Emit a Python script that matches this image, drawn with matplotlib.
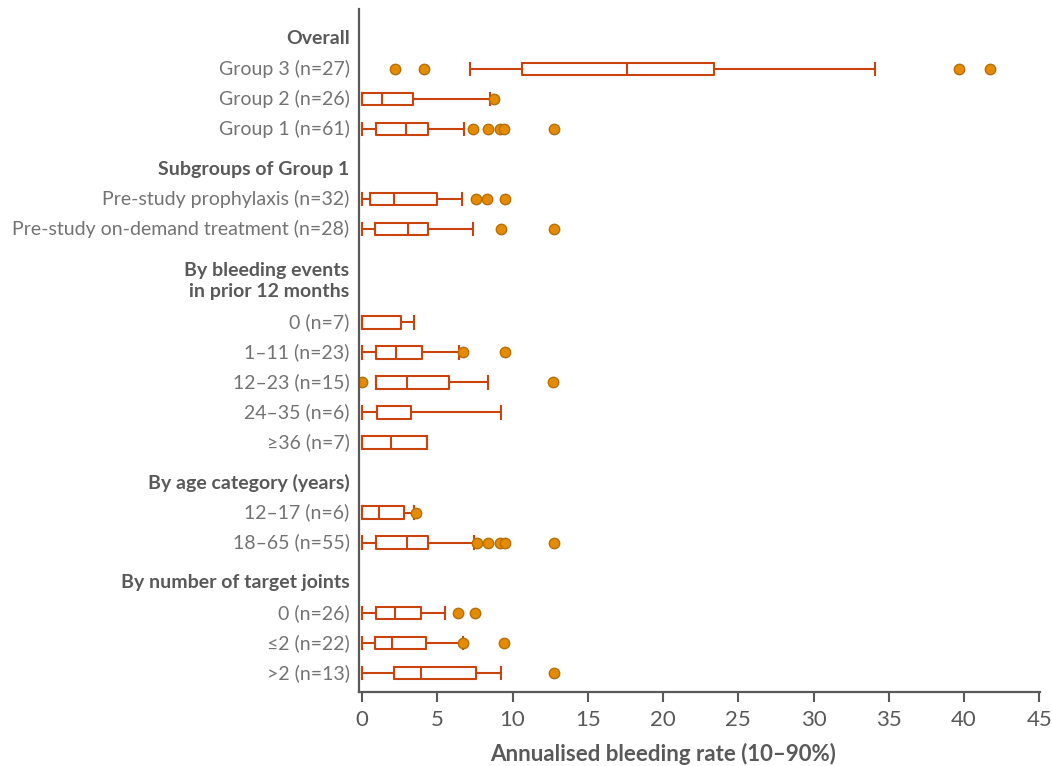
import matplotlib
matplotlib.use("Agg")
import matplotlib.pyplot as plt
from matplotlib.transforms import blended_transform_factory

plt.rcParams['font.family'] = ['Lato', 'DejaVu Sans']

# Section headings and the number of rows under each
headers = ["Overall", "Subgroups of Group 1", "By bleeding events\nin prior 12 months",
           "By age category (years)", "By number of target joints"]
section_sizes = [3, 2, 5, 2, 3]

row_labels = [
    "Group 3 (n=27)", "Group 2 (n=26)", "Group 1 (n=61)",
    "Pre-study prophylaxis (n=32)", "Pre-study on-demand treatment (n=28)",
    "0 (n=7)", "1\u201311 (n=23)", "12\u201323 (n=15)", "24\u201335 (n=6)", "\u226536 (n=7)",
    "12\u201317 (n=6)", "18\u201365 (n=55)",
    "0 (n=26)", "\u22642 (n=22)", ">2 (n=13)",
]

# Box statistics of the annualised bleeding rate (whiskers at 10th / 90th percentile)
whislo = [7.15, 0.0, 0.0, 0.0, 0.0, 0.0, 0.0, 0.93, 0.0, 0.0, 0.0, 0.0, 0.0, 0.0, 0.0]
q1 = [10.63, 0.0, 0.93, 0.53, 0.87, 0.0, 0.93, 0.93, 0.98, 0.0, 0.0, 0.93, 0.93, 0.87, 2.09]
med = [17.62, 1.3, 2.9, 2.15, 3.04, 0.0, 2.24, 2.98, 0.98, 1.95, 1.15, 2.98, 2.17, 2.0, 3.9]
q3 = [23.37, 3.4, 4.35, 4.97, 4.35, 2.58, 4.0, 5.75, 3.24, 4.33, 2.82, 4.37, 3.9, 4.26, 7.57]
whishi = [34.1, 8.5, 6.8, 6.66, 7.4, 3.42, 6.42, 8.35, 9.25, 4.33, 3.42, 7.43, 5.52, 6.68, 9.23]
outliers = [
    [2.2, 4.13, 39.7, 41.7],
    [8.75],
    [7.4, 8.37, 9.14, 9.45, 12.74],
    [7.57, 8.3, 9.47],
    [9.25, 12.76],
    [],
    [6.7, 9.52],
    [0.0, 12.7],
    [],
    [],
    [3.6],
    [7.63, 8.37, 9.19, 9.52, 12.76],
    [6.35, 7.5],
    [6.7, 9.45],
    [12.76],
]

x_ticks = [0, 5, 10, 15, 20, 25, 30, 35, 40, 45]
x_label = "Annualised bleeding rate (10\u201390%)"

BOX = "#C9430C"
DOT = "#E68A00"
DOT_EDGE = "#B5700A"
HEAD = "#595959"
TEXT = "#737373"

# Vertical layout: a heading, then its rows, with a small gap between sections
gap = 0.34
line_step = 0.77
header_pos, row_pos = [], []
y = -1.0
for si, (h, n) in enumerate(zip(headers, section_sizes)):
    if si > 0:
        y += gap
    nlines = h.count("\n") + 1
    header_pos.append(y + (nlines - 1) * line_step / 2)
    y += 1 + (nlines - 1) * line_step
    for _ in range(n):
        row_pos.append(y)
        y += 1

stats = []
for i in range(len(row_labels)):
    stats.append(dict(whislo=whislo[i], q1=q1[i], med=med[i], q3=q3[i],
                      whishi=whishi[i], fliers=outliers[i]))

fig = plt.figure(figsize=(10.52, 7.66), dpi=100)
ax = fig.add_axes([0.3413, 0.0966, 0.6473, 0.8917])

lw = 1.5
ax.bxp(stats, positions=row_pos, orientation="horizontal", widths=0.42,
       capwidths=0.42, showfliers=True,
       boxprops=dict(color=BOX, linewidth=lw),
       whiskerprops=dict(color=BOX, linewidth=lw),
       capprops=dict(color=BOX, linewidth=lw),
       medianprops=dict(color=BOX, linewidth=lw),
       flierprops=dict(marker="o", markerfacecolor=DOT, markeredgecolor=DOT_EDGE,
                       markeredgewidth=1.0, markersize=7.5, linestyle="none"))

ax.set_xlim(-0.2, 45.05)
ax.set_ylim(20.77, -2.0)
ax.set_xticks(x_ticks)
ax.set_xticklabels([str(t) for t in x_ticks])
ax.set_yticks([])

ax.tick_params(axis="x", colors=HEAD, labelsize=16, length=7, width=1.5, pad=6)
for t in ax.get_xticklabels():
    t.set_color(HEAD)
ax.set_xlabel(x_label, fontsize=16, fontweight="bold", color=HEAD)
ax.xaxis.set_label_coords(0.446, -0.075)

for side in ("top", "right"):
    ax.spines[side].set_visible(False)
for side in ("left", "bottom"):
    ax.spines[side].set_color(HEAD)
    ax.spines[side].set_linewidth(1.6)

trans = blended_transform_factory(ax.transAxes, ax.transData)
xoff = -0.014
for h, yp in zip(headers, header_pos):
    ax.text(xoff, yp, h, transform=trans, ha="right", va="center",
            fontsize=14, fontweight="bold", color=HEAD, linespacing=1.3)
for lab, yp in zip(row_labels, row_pos):
    ax.text(xoff, yp, lab, transform=trans, ha="right", va="center",
            fontsize=14, color=TEXT)

fig.savefig("out.png", dpi=100)
